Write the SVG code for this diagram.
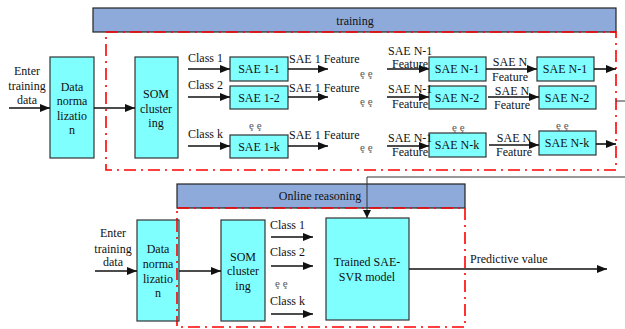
<svg xmlns="http://www.w3.org/2000/svg" width="625" height="329" viewBox="0 0 625 329" font-family="Liberation Serif, Times New Roman, serif">
<style>
text{font-family:"Liberation Serif","Times New Roman",Times,serif;font-size:12px;fill:#111}
.c{text-anchor:middle}
.box{fill:#80ffff;stroke:#333;stroke-width:1.2}
.ban{fill:#8eaadb;stroke:#222;stroke-width:1.2}
.red{fill:none;stroke:#ff0000;stroke-width:1.6;stroke-dasharray:12 5 2 5}
.ar{stroke:#111;stroke-width:1.6;fill:none;marker-end:url(#ah)}
.ln{stroke:#333;stroke-width:1;fill:none}
.el{font-size:11px;fill:#555}
</style>
<defs>
<marker id="ah" viewBox="0 0 10 8" refX="10" refY="4" markerWidth="10" markerHeight="8" markerUnits="userSpaceOnUse" orient="auto">
<path d="M0,0 L10,4 L0,8 Z" fill="#111"/>
</marker>
<marker id="ah2" viewBox="0 0 8 8" refX="8" refY="4" markerWidth="8" markerHeight="8" markerUnits="userSpaceOnUse" orient="auto">
<path d="M0,0 L8,4 L0,8 Z" fill="#111"/>
</marker>
</defs>

<g id="training-banner"><rect class="ban" x="93" y="8" width="523" height="24"/><text class="c" x="355" y="25">training</text></g>
<rect class="red" x="106" y="32" width="510" height="138"/>

<g id="input-top"><text class="c" x="27" y="75">Enter</text><text class="c" x="27" y="90">training</text><text class="c" x="27" y="104">data</text></g>
<g id="norm-top"><rect class="box" x="50" y="57" width="44" height="101"/><text class="c" x="72" y="91">Data</text><text class="c" x="72" y="105">norma</text><text class="c" x="72" y="120">lizatio</text><text class="c" x="72" y="134">n</text></g>
<g id="som-top"><rect class="box" x="135" y="57" width="43" height="101"/><text class="c" x="156" y="98">SOM</text><text class="c" x="156" y="113">cluster</text><text class="c" x="156" y="127">ing</text></g>

<g id="sae11"><rect class="box" x="230" y="57" width="58" height="24"/><text class="c" x="259" y="73">SAE 1-1</text></g>
<g id="sae12"><rect class="box" x="230" y="86" width="58" height="23"/><text class="c" x="259" y="102">SAE 1-2</text></g>
<g id="sae1k"><rect class="box" x="230" y="135" width="58" height="23"/><text class="c" x="259" y="151">SAE 1-k</text></g>
<g id="saeN1a"><rect class="box" x="429" y="57" width="57" height="24"/><text class="c" x="457" y="73">SAE N-1</text></g>
<g id="saeN2a"><rect class="box" x="429" y="86" width="57" height="23"/><text class="c" x="457" y="102">SAE N-2</text></g>
<g id="saeNka"><rect class="box" x="429" y="133" width="57" height="24"/><text class="c" x="457" y="149">SAE N-k</text></g>
<g id="saeN1b"><rect class="box" x="537" y="57" width="57" height="24"/><text class="c" x="565" y="73">SAE N-1</text></g>
<g id="saeN2b"><rect class="box" x="539" y="86" width="57" height="23"/><text class="c" x="567" y="102">SAE N-2</text></g>
<g id="saeNkb"><rect class="box" x="539" y="131" width="57" height="24"/><text class="c" x="567" y="147">SAE N-k</text></g>

<g id="online-banner"><rect class="ban" x="177" y="184" width="288" height="24"/><text class="c" x="320" y="200">Online reasoning</text></g>
<rect class="red" x="177" y="208" width="288" height="119"/>

<g id="input-bot"><text class="c" x="113" y="237">Enter</text><text class="c" x="113" y="253">training</text><text class="c" x="113" y="266">data</text></g>
<g id="norm-bot"><rect class="box" x="137" y="220" width="42" height="101"/><text class="c" x="158" y="253">Data</text><text class="c" x="158" y="268">norma</text><text class="c" x="158" y="283">lizatio</text><text class="c" x="158" y="297">n</text></g>
<line x1="177" y1="220" x2="177" y2="321" stroke="#ff0000" stroke-width="1.6" stroke-dasharray="12 5 2 5"/>
<g id="som-bot"><rect class="box" x="221" y="220" width="44" height="101"/><text class="c" x="243" y="261">SOM</text><text class="c" x="243" y="275">cluster</text><text class="c" x="243" y="290">ing</text></g>
<g id="svr"><rect class="box" x="326" y="218" width="83" height="102"/><text class="c" x="367" y="266">Trained SAE-</text><text class="c" x="367" y="281">SVR model</text></g>

<g id="connectors">
<line class="ar" x1="9" y1="108" x2="50" y2="108"/>
<line class="ar" x1="94" y1="108" x2="135" y2="108"/>
<line class="ar" x1="188" y1="69" x2="230" y2="69"/>
<line class="ar" x1="188" y1="97" x2="230" y2="97"/>
<line class="ar" x1="188" y1="146" x2="230" y2="146"/>
<line class="ar" x1="288" y1="69" x2="328" y2="69"/>
<line class="ar" x1="288" y1="97" x2="328" y2="97"/>
<line class="ar" x1="288" y1="146" x2="328" y2="146"/>
<line class="ar" x1="387" y1="69" x2="429" y2="69"/>
<line class="ar" x1="387" y1="97" x2="429" y2="97"/>
<line class="ar" x1="387" y1="146" x2="429" y2="146"/>
<line class="ar" x1="486" y1="69" x2="537" y2="69"/>
<line class="ar" x1="488" y1="97" x2="539" y2="97"/>
<line class="ar" x1="489" y1="145" x2="539" y2="145"/>
<line class="ar" x1="594" y1="69" x2="616" y2="69"/>
<line class="ar" x1="596" y1="144" x2="616" y2="144"/>
<line class="ln" x1="616" y1="101" x2="625" y2="101"/>
<polyline class="ln" points="625,177 367,177 367,218" marker-end="url(#ah2)"/>
<line class="ar" x1="95" y1="271" x2="137" y2="271"/>
<line class="ar" x1="179" y1="271" x2="221" y2="271"/>
<line class="ar" x1="271" y1="237" x2="313" y2="237"/>
<line class="ar" x1="271" y1="266" x2="313" y2="266"/>
<line class="ar" x1="271" y1="314" x2="313" y2="314"/>
<line class="ar" x1="409" y1="269" x2="607" y2="269"/>
</g>

<g id="labels">
<text x="188" y="62">Class 1</text>
<text x="188" y="89">Class 2</text>
<text x="188" y="138">Class k</text>
<text x="289" y="63">SAE 1 Feature</text>
<text x="289" y="92">SAE 1 Feature</text>
<text x="289" y="139">SAE 1 Feature</text>
<text x="388" y="55">SAE N-1</text>
<text x="392" y="68">Feature</text>
<text x="388" y="93">SAE N-1</text>
<text x="392" y="108">Feature</text>
<text x="388" y="142">SAE N-1</text>
<text x="392" y="156">Feature</text>
<text class="c" x="510" y="66">SAE N</text>
<text class="c" x="510" y="81">Feature</text>
<text class="c" x="512" y="95">SAE N</text>
<text class="c" x="512" y="109">Feature</text>
<text class="c" x="514" y="142">SAE N</text>
<text class="c" x="514" y="156">Feature</text>
<text class="el" x="360" y="77">ȩ ȩ</text>
<text class="el" x="360" y="105">ȩ ȩ</text>
<text class="el" x="360" y="151">ȩ ȩ</text>
<text class="el" x="249" y="129">ȩ ȩ</text>
<text class="el" x="452" y="131">ȩ ȩ</text>
<text class="el" x="556" y="129">ȩ ȩ</text>
<text x="270" y="229">Class 1</text>
<text x="270" y="256">Class 2</text>
<text x="270" y="305">Class k</text>
<text class="el" x="275" y="287">ȩ ȩ</text>
<text x="470" y="263">Predictive value</text>
</g>
</svg>
